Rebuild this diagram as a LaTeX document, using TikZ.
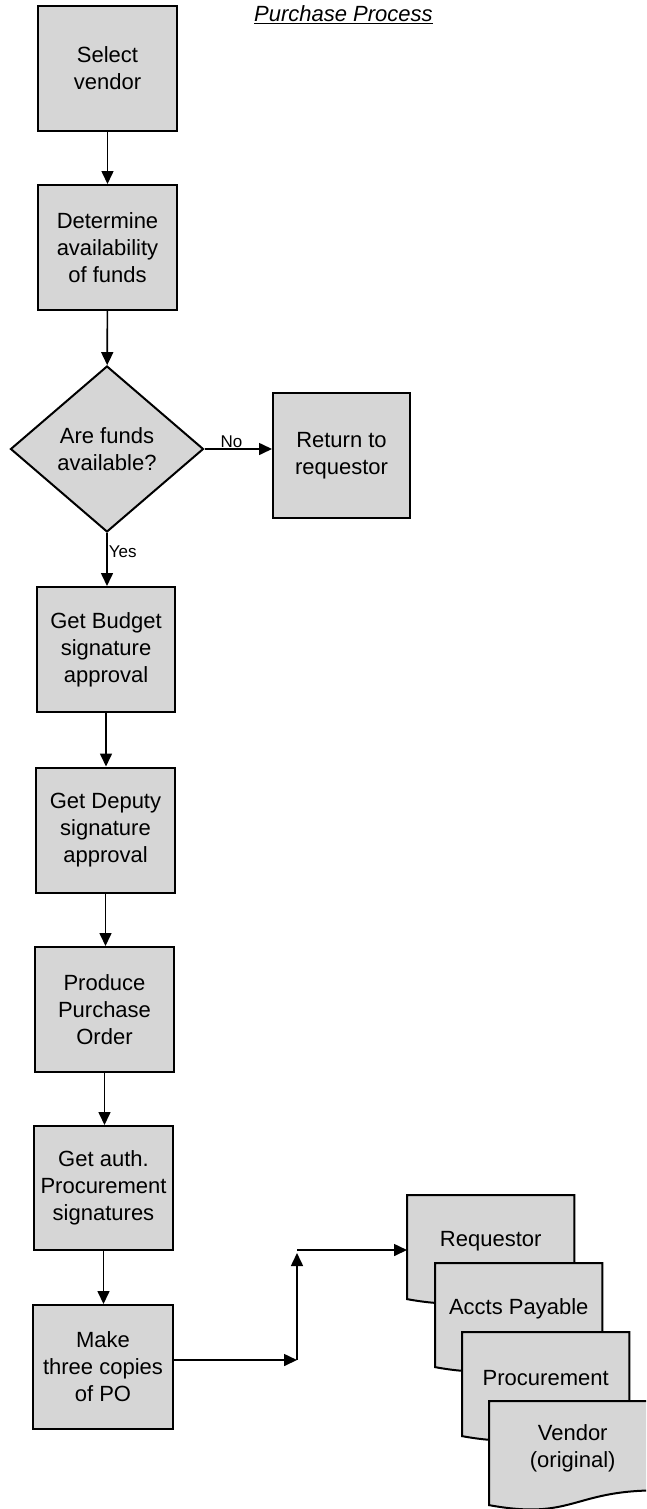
\documentclass[tikz,border=0pt]{standalone}
\usepackage{fontspec}
\setmainfont{Liberation Sans}
\usetikzlibrary{arrows.meta,shapes.geometric,calc}
\definecolor{boxgray}{gray}{0.84}
\begin{document}
\begin{tikzpicture}[x=1pt,y=-1pt,
  txt/.style={font=\fontsize{22}{27}\selectfont, align=center},
  proc/.style={txt, draw, line width=2pt, fill=boxgray, minimum width=139pt, minimum height=125pt, inner sep=0pt},
  decision/.style={txt, diamond, draw, line width=2pt, fill=boxgray, minimum width=193pt, minimum height=166pt, inner sep=0pt},
  docbox/.style={minimum width=167pt, minimum height=111pt, inner sep=0pt, anchor=north west},
  docline/.style={draw, line width=2pt, fill=boxgray},
  arr/.style={line width=1.6pt, -{Triangle[length=13pt,width=12pt]}},
  lbl/.style={font=\fontsize{17}{20}\selectfont, inner sep=1pt}
]
\useasboundingbox (0,0) rectangle (646,1509);
\clip (0,0) rectangle (646,1509);

\node (title) [anchor=base west, font=\fontsize{22}{26}\selectfont, inner sep=0pt] at (254,22) {\underline{\textit{Purchase Process}}};

\node[proc] (sel) at (107.5,68.5) {Select\\vendor};
\node[proc] (det) at (107.5,247.5) {Determine\\availability\\of funds};
\node[decision] (dia) at (107,449) {Are funds\\available?};
\node[proc, minimum width=137pt] (ret) at (341.5,455.5) {Return to\\requestor};
\node[proc, minimum width=138pt] (bud) at (106,649.5) {Get Budget\\signature\\approval};
\node[proc] (dep) at (105.5,830) {Get Deputy\\signature\\approval};
\node[proc] (pro) at (104.5,1009.5) {Produce\\Purchase\\Order};
\node[proc, minimum height=124pt] (aut) at (103.5,1188) {Get auth.\\Procurement\\signatures};
\node[proc, minimum width=140pt, minimum height=124pt] (mak) at (103,1367) {Make\\three copies\\of PO};

% documents
\newcommand\docshape[1]{%
  \path[docline] (#1.north west) -- (#1.north east) -- ([yshift=22pt]#1.south east)
    .. controls ([yshift=22pt]#1.south) and ([yshift=-8pt]#1.south) .. ([yshift=7.3pt]#1.south west) -- cycle;}
\node[docbox] (req) at (407,1195) {};
\docshape{req}
\node[txt] (reqt) at ([yshift=-46pt]req.north) {Requestor};
\node[docbox] (acc) at (435,1263) {};
\docshape{acc}
\node[txt] (acct) at ([yshift=-46pt]acc.north) {Accts Payable};
\node[docbox] (prc) at (462,1332) {};
\docshape{prc}
\node[txt] (prct) at ([yshift=-46pt]prc.north) {Procurement};
\node[docbox] (ven) at (489,1401) {};
\docshape{ven}
\node[txt] (vent) at ([yshift=-47pt]ven.north) {Vendor\\(original)};

% connectors
\draw[arr] (sel) -- (det);
\draw[arr] (det) -- (dia);
\draw[arr] (dia.east) -- node[lbl, above, pos=0.4] (no) {No} (dia.east -| ret.west);
\draw[arr] (dia.south) -- node[lbl, right, pos=0.35] (yes) {Yes} (dia.south |- bud.north);
\draw[arr] (bud) -- (bud |- dep.north);
\draw[arr] (dep) -- (dep |- pro.north);
\draw[arr] (pro) -- (pro |- aut.north);
\draw[arr] (aut) -- (aut |- mak.north);
\coordinate (j1) at (297,1360);
\coordinate (j2) at (297,1250);
\draw[arr] (mak.east |- j1) -- (j1);
\draw[arr] (j1) -- ([yshift=-3pt]j2);
\draw[arr] (j2) -- (j2 -| req.west);
\end{tikzpicture}
\end{document}
